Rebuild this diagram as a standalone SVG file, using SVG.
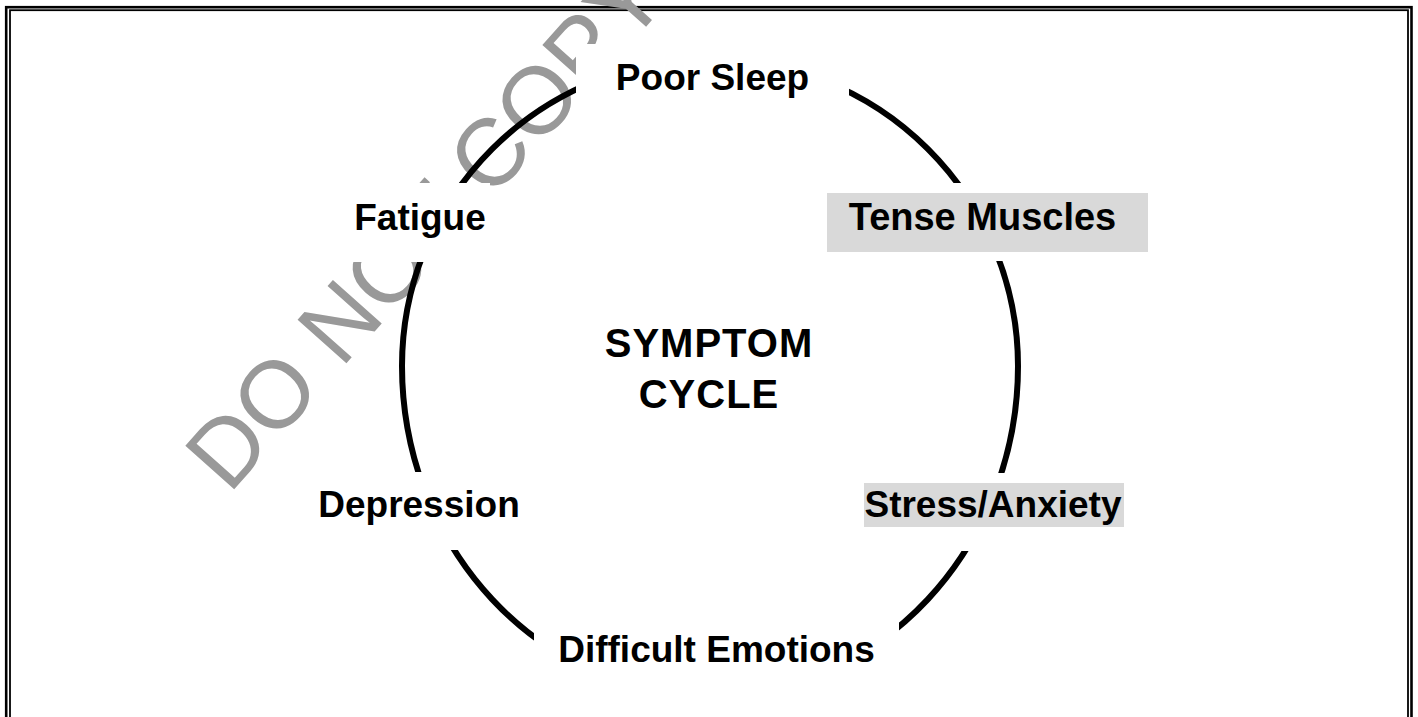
<svg xmlns="http://www.w3.org/2000/svg" width="1418" height="717" viewBox="0 0 1418 717">
<style>
.lbl{font-family:"Liberation Sans",Arial,sans-serif;font-weight:bold;font-size:37px;fill:#000;text-anchor:middle;font-variant-ligatures:none}
.mask{fill:#fff}
.hl{fill:#d9d9d9}
.wm{font-family:"Liberation Sans",Arial,sans-serif;font-size:95px;fill:#999}
</style>
<rect width="1418" height="717" fill="#fff"/>
<g id="frame" fill="none" stroke="#000">
<rect x="6.2" y="7.2" width="1405.3" height="740" stroke-width="2.6"/>
<rect x="10" y="10.2" width="1398" height="740" stroke-width="1.8"/>
</g>
<g id="watermark">
<text class="wm" transform="translate(229,495) rotate(-48.3)" x="0" y="0">DO NOT COPY</text>
</g>
<g id="connectors">
<path d="M 402 366 A 308 307 0 0 1 1018 366 A 308 330 0 0 1 402 366 Z" fill="none" stroke="#000" stroke-width="6"/>
</g>
<g id="poor-sleep">
<rect class="mask" x="576" y="44" width="273" height="66"/>
<text class="lbl" x="712.5" y="89.5">Poor Sleep</text>
</g>
<g id="tense-muscles">
<rect class="mask" x="820" y="183" width="335" height="78"/>
<rect class="hl" x="827" y="193" width="321" height="59"/>
<text class="lbl" x="982.5" y="230" style="font-size:38px">Tense Muscles</text>
</g>
<g id="stress-anxiety">
<rect class="mask" x="855" y="473" width="280" height="78"/>
<rect class="hl" x="864" y="483" width="260" height="44"/>
<text class="lbl" x="993" y="517">Stress/Anxiety</text>
</g>
<g id="difficult-emotions">
<rect class="mask" x="534" y="615" width="365" height="90"/>
<text class="lbl" x="716.5" y="662">Difficult Emotions</text>
</g>
<g id="depression">
<rect class="mask" x="300" y="472" width="240" height="78"/>
<text class="lbl" x="419" y="517">Depression</text>
</g>
<g id="fatigue">
<rect class="mask" x="320" y="183" width="170" height="79"/>
<text class="lbl" x="420" y="230">Fatigue</text>
</g>
<g id="center">
<text class="lbl" x="709" y="357" style="font-size:40px;letter-spacing:1px">SYMPTOM</text>
<text class="lbl" x="709" y="408" style="font-size:40px;letter-spacing:1px">CYCLE</text>
</g>
</svg>
